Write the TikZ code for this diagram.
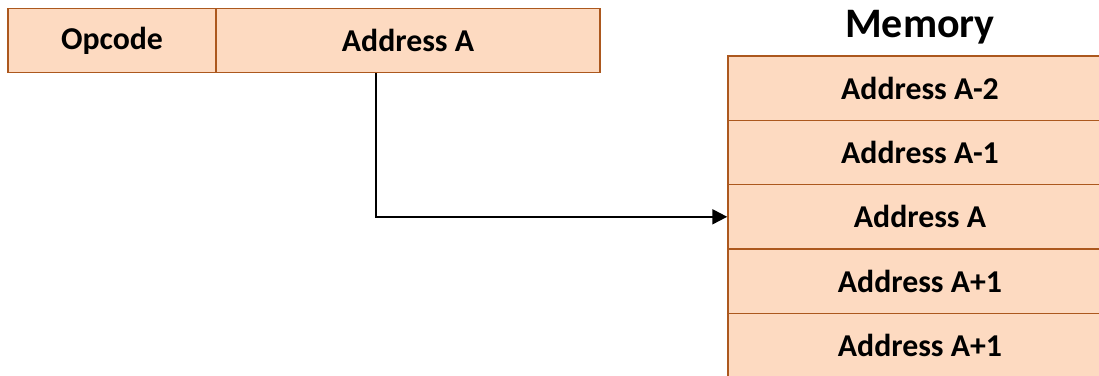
\documentclass[tikz,border=0pt]{standalone}
\usepackage{fontspec}
\setmainfont{Carlito}
\usetikzlibrary{arrows.meta}
\definecolor{cellfill}{RGB}{253,218,193}
\definecolor{celldraw}{RGB}{172,88,30}
\tikzset{
  cell/.style={draw=celldraw, fill=cellfill, line width=1.5pt, inner sep=0pt,
    minimum height=64pt, font=\fontsize{31.8}{36}\selectfont\bfseries},
  memcell/.style={cell, minimum width=384pt, minimum height=64.3pt},
  pointer/.style={draw=black, line width=2pt, -{Triangle[length=15pt,width=15pt]}}
}
\begin{document}
\begin{tikzpicture}[x=1pt,y=-1pt]
\useasboundingbox (0,0) rectangle (1099,375);
\clip (0,0) rectangle (1099,375);
\node[cell, minimum width=208pt] (op) at (112,40.5) {Opcode};
\node[cell, minimum width=384pt] (addr) at (408,40.5) {Address A};
\node[font=\fontsize{42}{48}\selectfont\bfseries] (title) at (920,27) {Memory};
\node[memcell] (m0) at (920,88.2) {Address A-2};
\node[memcell] (m1) at (920,152.5) {Address A-1};
\node[memcell] (m2) at (920,216.8) {Address A};
\node[memcell] (m3) at (920,281.1) {Address A+1};
\node[memcell] (m4) at (920,345.4) {Address A+1};
\draw[pointer] ([xshift=-32pt]addr.south) |- (m2.west);
\end{tikzpicture}
\end{document}
